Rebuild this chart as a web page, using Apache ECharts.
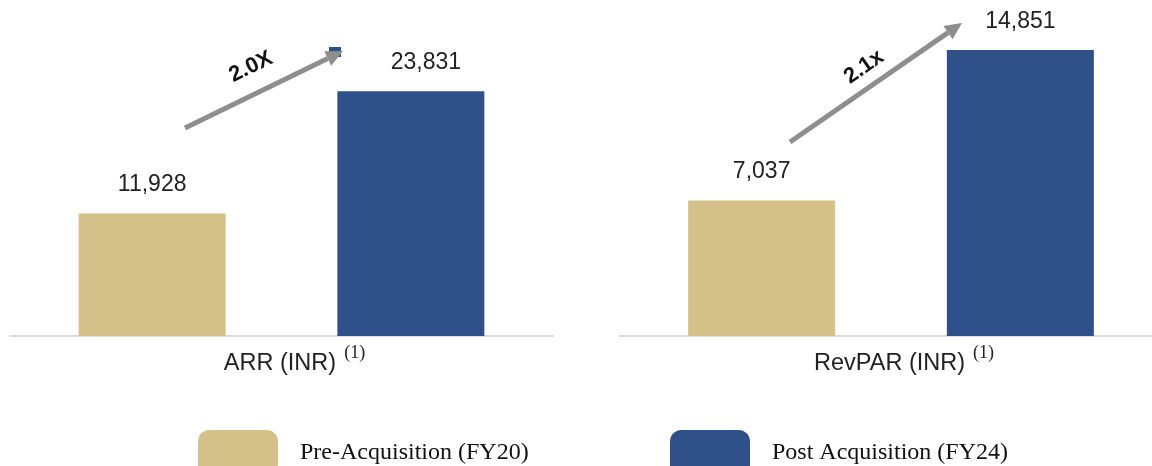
<!DOCTYPE html>
<html>
<head>
<meta charset="utf-8">
<script src="https://cdn.jsdelivr.net/npm/echarts@6/dist/echarts.min.js"></script>
<style>
html,body{margin:0;padding:0;background:#fff;}
#chart{width:1152px;height:466px;}
</style>
</head>
<body>
<div id="chart"></div>
<script>
const panelCategories = [['ARR (INR)'], ['RevPAR (INR)']];
const seriesNames = ['Pre-Acquisition (FY20)', 'Post Acquisition (FY24)'];
const preValues = [11928, 7037];
const postValues = [23831, 14851];
const growthLabels = ['2.0X', '2.1x'];
const footnote = '(1)';
const yMax = [30000, 16000];

const TAN = '#D4C18A';
const BLUE = '#30508A';
const GREY = '#8E8E8E';
const SANS = '"Liberation Sans", Arial, sans-serif';
const SERIF = '"Liberation Serif", "Times New Roman", serif';

const chart = echarts.init(document.getElementById('chart'));

function fmt(v){ return Number(v).toLocaleString('en-US'); }

function arrow(x1, y1, x2, y2){
  const ang = Math.atan2(y2 - y1, x2 - x1);
  const L = 17, W = 8;
  const bx = x2 - L * Math.cos(ang), by = y2 - L * Math.sin(ang);
  const px = -Math.sin(ang), py = Math.cos(ang);
  return [
    {type:'line', shape:{x1:x1, y1:y1, x2:bx, y2:by}, style:{stroke:GREY, lineWidth:5}},
    {type:'polygon', shape:{points:[[x2,y2],[bx+px*W,by+py*W],[bx-px*W,by-py*W]]}, style:{fill:GREY}}
  ];
}

const grids = [
  {left:10, right:599, top:28, bottom:130},
  {left:630, right:0, top:28, bottom:130}
];

const xAxes = panelCategories.map((cats, i) => ({
  type:'category', gridIndex:i, data:cats,
  axisLine:{show:true, lineStyle:{color:'#D9D9D9', width:2}},
  axisTick:{show:false},
  axisLabel:{
    margin:8,
    padding:[0,0,0,26],
    formatter: v => '{m|' + v + '}{g| }{s|' + footnote + '}',
    rich:{
      m:{fontFamily:SANS, fontSize:23.5, color:'#222', lineHeight:32, verticalAlign:'bottom'},
      g:{fontFamily:SANS, fontSize:23, width:8},
      s:{fontFamily:SERIF, fontSize:18, color:'#222', lineHeight:18, verticalAlign:'top'}
    }
  }
}));

const yAxes = yMax.map((m, i) => ({
  type:'value', gridIndex:i, min:0, max:m, show:false, splitLine:{show:false}
}));

const labelStyle = {show:true, position:'top', distance:17, formatter:p => fmt(p.value),
  fontFamily:SANS, fontSize:23, color:'#222'};

const series = [];
[0,1].forEach(i => {
  series.push({
    name:seriesNames[0], type:'bar', xAxisIndex:i, yAxisIndex:i,
    data:[preValues[i]], barWidth:147, barGap:'76%',
    itemStyle:{color:TAN}, label:labelStyle
  });
  series.push({
    name:seriesNames[1], type:'bar', xAxisIndex:i, yAxisIndex:i,
    data:[{value:postValues[i], label: i === 0 ? {offset:[15,0]} : {}}], barWidth:147, barGap:'76%',
    itemStyle:{color:BLUE}, label:labelStyle
  });
});

const graphics = [
  {type:'line', shape:{x1:619, y1:336, x2:632, y2:336}, style:{stroke:'#D9D9D9', lineWidth:2}},
  {type:'rect', shape:{x:329, y:47, width:12, height:10}, style:{fill:BLUE}},
  ...arrow(185, 128, 343, 51),
  ...arrow(790, 142, 962, 23),
  {type:'text', x:251, y:67, rotation:26*Math.PI/180,
    style:{text:growthLabels[0], fontFamily:SANS, fontWeight:'bold', fontSize:22, fill:'#111', align:'center', verticalAlign:'middle'}},
  {type:'text', x:864, y:67, rotation:35*Math.PI/180,
    style:{text:growthLabels[1], fontFamily:SANS, fontWeight:'bold', fontSize:22, fill:'#111', align:'center', verticalAlign:'middle'}}
];

const legendBase = {
  top:430, padding:0, itemWidth:80, itemHeight:46, itemGap:0, icon:'roundRect',
  textStyle:{fontFamily:SERIF, fontSize:24, color:'#111', padding:[0,0,0,17]}, selectedMode:false
};

chart.setOption({
  animation:false,
  grid:grids,
  xAxis:xAxes,
  yAxis:yAxes,
  series:series,
  legend:[
    Object.assign({}, legendBase, {left:198, data:[seriesNames[0]]}),
    Object.assign({}, legendBase, {left:670, data:[seriesNames[1]]})
  ],
  graphic:graphics
});
</script>
</body>
</html>
